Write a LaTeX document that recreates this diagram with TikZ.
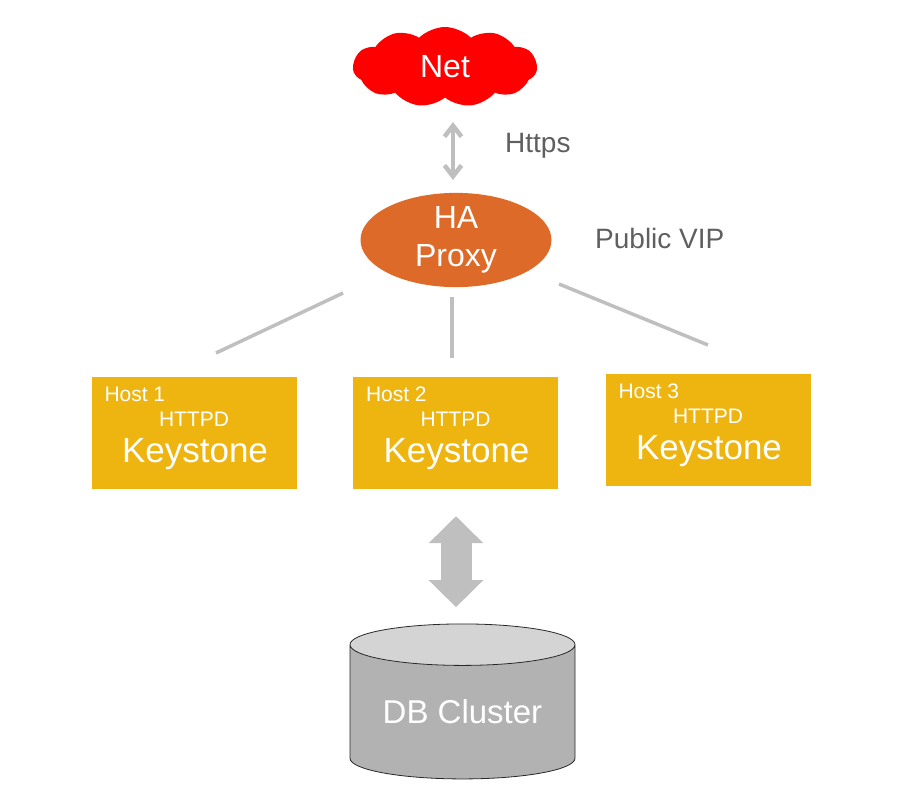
\documentclass[tikz,border=0pt]{standalone}
\usepackage{fontspec}
\setmainfont{Liberation Sans}
\usepackage{tikz}
\usetikzlibrary{calc,positioning,shapes.geometric,shapes.symbols,arrows.meta}
\definecolor{netred}{RGB}{255,0,0}
\definecolor{pxorange}{RGB}{221,106,40}
\definecolor{ksyellow}{RGB}{238,181,17}
\definecolor{lnkgray}{RGB}{191,191,191}
\definecolor{txtgray}{RGB}{95,95,95}
\definecolor{dbbody}{RGB}{178,178,178}
\definecolor{dbtop}{RGB}{212,212,212}
\definecolor{dbline}{RGB}{40,40,40}

\begin{document}
\begin{tikzpicture}[x=1pt, y=-1pt, lbl/.style={text=txtgray, inner sep=0pt, font=\fontsize{28}{34}\selectfont},
  lnk/.style={draw=lnkgray, line width=3.5pt}]
\tikzstyle{box}=[rectangle, fill=ksyellow, minimum width=205pt, minimum height=112pt, inner sep=0pt]
\tikzstyle{wtxt}=[text=white, inner sep=0pt]
\useasboundingbox (0,0) rectangle (922,790);
\node[cloud, cloud puffs=11, cloud puff arc=90, aspect=2.4, fill=netred, minimum width=184pt, minimum height=80pt, inner sep=0pt, text=white, font=\fontsize{32}{38}\selectfont] (net) at (445,67){Net};
\node[ellipse, fill=pxorange, minimum width=191pt, minimum height=94pt, inner sep=0pt, align=center, text=white, font=\fontsize{32}{38}\selectfont] (px) at (456,240){HA\\Proxy};
\node[lbl, anchor=base west] (https) at (505,152){Https};
\node[lbl, anchor=base west] (vip) at (595,248){Public VIP};
\foreach \i/\x/\y in {1/194/433, 2/455.5/433, 3/708/430}{
\node[box] (k\i) at (\x,\y){};
\node[wtxt, anchor=base west, font=\fontsize{21}{25}\selectfont] (h\i) at ($(k\i.north west)+(13,25)$){Host \i};
\node[wtxt, anchor=base, font=\fontsize{21}{25}\selectfont] (d\i) at ($(k\i.north)+(0,50)$){HTTPD};
\node[wtxt, anchor=base, font=\fontsize{35}{42}\selectfont] (s\i) at ($(k\i.north)+(1,86)$){Keystone};
}
\node[cylinder, shape border rotate=90, aspect=0.26, draw=dbline, line width=0.8pt, cylinder uses custom fill, cylinder body fill=dbbody, cylinder end fill=dbtop, minimum width=225pt, minimum height=155pt, inner sep=0pt, text=white, font=\fontsize{33}{40}\selectfont] (db) at (462.5,712){DB Cluster};
% links
\coordinate (hs1) at (453,122);
\coordinate (hs2) at (453,180);
\draw[lnk, line width=4.5pt, {Straight Barb[length=11pt,width=17pt]}-{Straight Barb[length=11pt,width=17pt]}] (hs1) -- (hs2);
\coordinate (l1a) at (343,293);
\coordinate (l1b) at (216,353);
\coordinate (l2a) at (452,297);
\coordinate (l2b) at (452,358);
\coordinate (l3a) at (559,284);
\coordinate (l3b) at (708,345);
\foreach \j in {1,2,3}{
\draw[lnk] (l\j a) -- (l\j b);
}
\draw[draw=lnkgray, line width=31pt, {Triangle[length=27pt,width=53pt]}-{Triangle[length=27pt,width=53pt]}] ($(k2.south)+(0.5,27)$) -- ($(k2.south)+(0.5,118)$);
\end{tikzpicture}
\end{document}
